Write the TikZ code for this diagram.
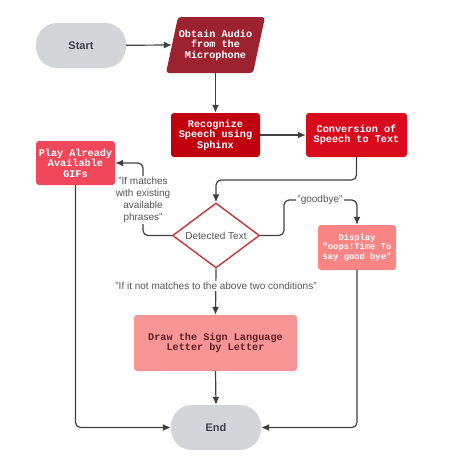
\documentclass[tikz,border=0pt]{standalone}
\usepackage{fontspec}
\setmainfont{Liberation Sans}
\newfontfamily\boxmono{Liberation Mono}
\usetikzlibrary{shapes.geometric,arrows.meta}
\definecolor{lineGray}{HTML}{404040}
\definecolor{termGray}{HTML}{D4D5D8}
\definecolor{termText}{HTML}{3C4148}
\definecolor{cObtain}{HTML}{9C2230}
\definecolor{cRecog}{HTML}{C1000F}
\definecolor{cConv}{HTML}{DA0A1E}
\definecolor{cPlay}{HTML}{F0485A}
\definecolor{cDisp}{HTML}{FB8585}
\definecolor{cDraw}{HTML}{F99595}
\definecolor{cDrawText}{HTML}{5C1F24}
\definecolor{cDiam}{HTML}{C8323C}
\definecolor{lblText}{HTML}{555555}
\tikzset{
  terminal/.style={rectangle, rounded corners=21pt, fill=termGray, text=termText,
    font=\fontsize{11}{13}\selectfont\bfseries, minimum width=90pt, minimum height=45pt, inner sep=0pt},
  procbox/.style={rectangle, rounded corners=3pt, text=white, align=center,
    font=\boxmono\fontsize{10.2}{10.5}\selectfont\bfseries, inner sep=0pt},
  conn/.style={draw=lineGray, line width=1.2pt, rounded corners=5pt,
    -{Latex[length=8pt,width=7pt]}},
  lbl/.style={fill=white, text=lblText, font=\fontsize{10}{12}\selectfont, align=center, inner sep=1pt}
}
\begin{document}
\begin{tikzpicture}[x=1pt,y=-1pt]
\useasboundingbox (0,0) rectangle (448,466);
% nodes
\node[terminal] (start) at (81,45.5) {Start};
\node[procbox, minimum width=87pt, minimum height=56pt] (obtain) at (215.5,45) {};
\fill[cObtain, rounded corners=3pt] (178,17) -- (265,17) -- (253,73) -- (166,73) -- cycle;
\node[procbox] at (obtain) {Obtain Audio\\from the\\Microphone};
\node[procbox, fill=cRecog, minimum width=89pt, minimum height=44pt] (recog) at (215.5,135) {Recognize\\Speech using\\Sphinx};
\node[procbox, fill=cConv, minimum width=101pt, minimum height=44pt] (conv) at (356.5,135) {Conversion of\\Speech to Text};
\node[procbox, fill=cPlay, minimum width=79pt, minimum height=44pt] (play) at (75.5,163) {Play Already\\Available\\GIFs};
\node[diamond, draw=cDiam, line width=1.4pt, fill=white, aspect=1.34, inner sep=0pt,
  minimum width=87pt, minimum height=65pt, text=lblText, font=\fontsize{10}{12}\selectfont] (det) at (216,235.5) {Detected Text};
\node[procbox, fill=cDisp, minimum width=78pt, minimum height=45pt,
  font=\boxmono\fontsize{8.8}{9.5}\selectfont\bfseries] (disp) at (357,247.5) {Display\\"oops!Time To\\say good bye"};
\node[procbox, fill=cDraw, text=cDrawText, minimum width=163pt, minimum height=56pt] (drawn) at (215.5,343) {Draw the Sign Language\\Letter by Letter};
\node[terminal] (end) at (216,427.5) {End};
% connectors
\draw[conn] (start) -- (obtain.west);
\draw[conn] (obtain.south) -- (recog.north);
\draw[conn] (recog.east) -- (conv.west);
\draw[conn] (conv.south) -- (356.5,180) -- (216,180) -- (det.north);
\draw[conn] (det.west) -- (143,235.5) -- (143,163) -- (play.east);
\node[lbl] (lblmatch) at (143,200) {"If matches\\with existing\\available\\phrases"};
\draw[conn] (det.east) -- (284,235.5) -- (284,200) -- (357,200) -- (disp.north);
\node[lbl] (lblbye) at (320,200) {"goodbye"};
\draw[conn] (det.south) -- (drawn.north);
\node[lbl] (lblnot) at (216,286) {"If it not matches to the above two conditions"};
\draw[conn] (drawn.south) -- (end.north);
\draw[conn] (play.south) -- (75.5,427.5) -- (end.west);
\draw[conn] (disp.south) -- (357,427.5) -- (end.east);
\end{tikzpicture}
\end{document}
